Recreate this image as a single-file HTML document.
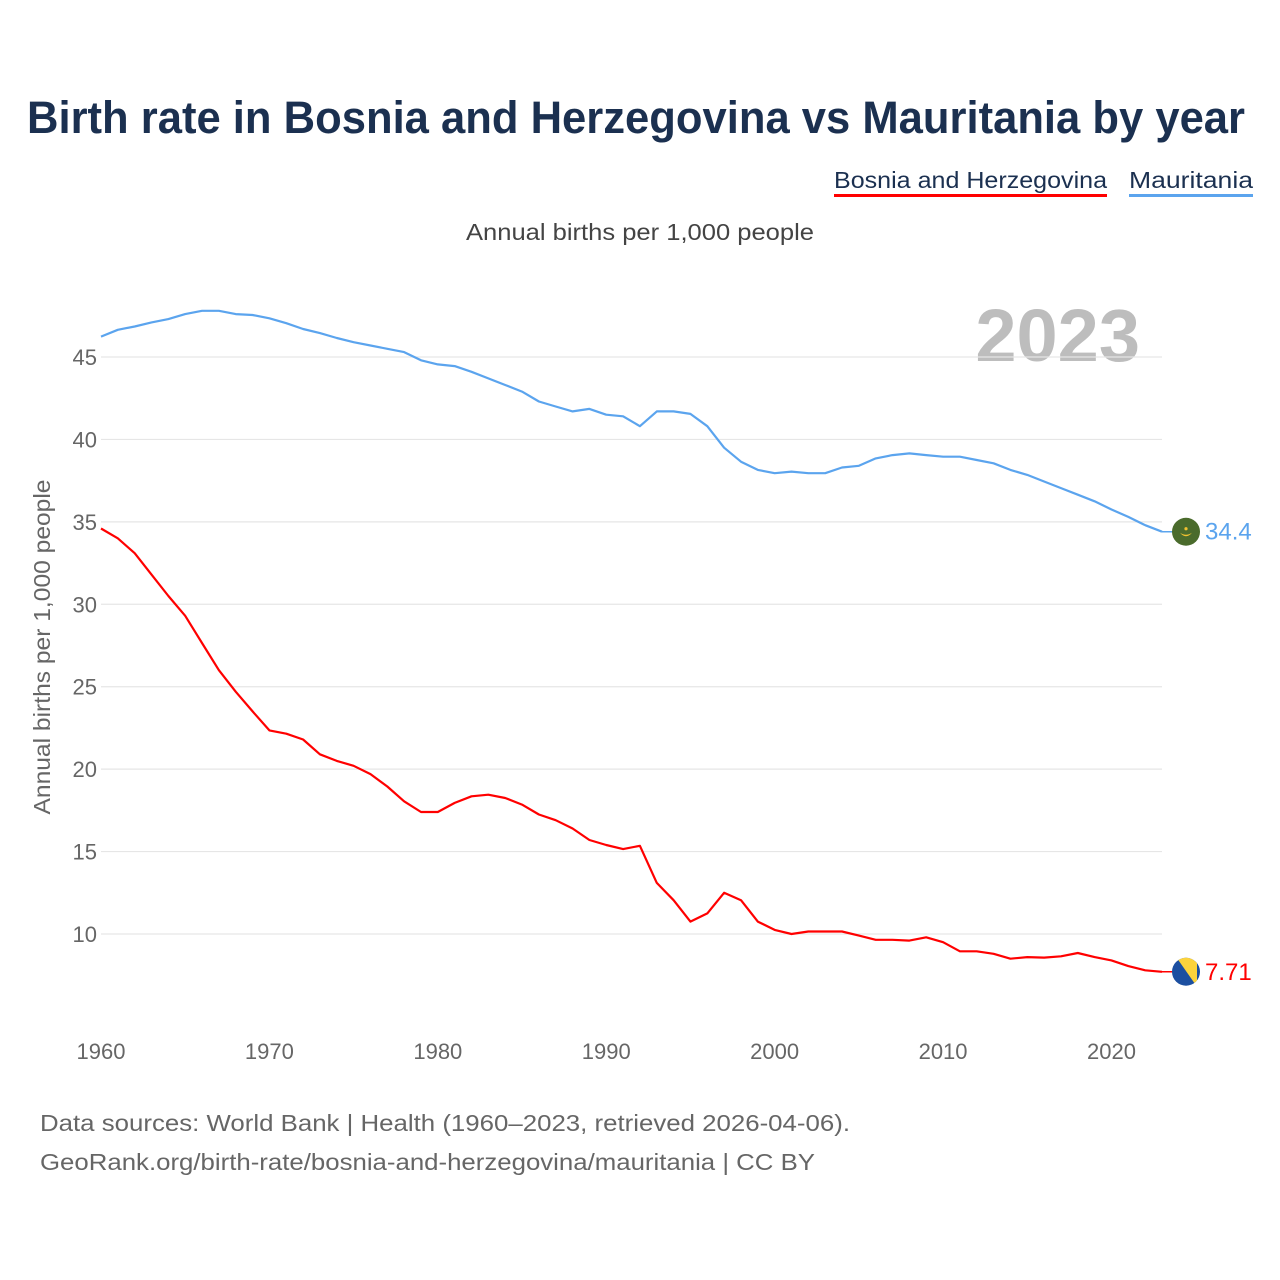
<!DOCTYPE html>
<html><head><meta charset="utf-8"><style>
html,body{margin:0;padding:0;background:#fff;}
svg{display:block;font-family:"Liberation Sans",sans-serif;}
</style></head><body>
<svg id="chart" width="1280" height="1280" viewBox="0 0 1280 1280" xmlns="http://www.w3.org/2000/svg">
<text x="636" y="133" text-anchor="middle" font-size="45" font-weight="bold" fill="#1b3050" textLength="1218" lengthAdjust="spacingAndGlyphs">Birth rate in Bosnia and Herzegovina vs Mauritania by year</text>
<g>
<text x="834" y="188" font-size="23" fill="#1b3050" textLength="273" lengthAdjust="spacingAndGlyphs">Bosnia and Herzegovina</text>
<rect x="834" y="194" width="273" height="3" fill="#ff0000"/>
</g>
<g>
<text x="1129" y="188" font-size="23" fill="#1b3050" textLength="124" lengthAdjust="spacingAndGlyphs">Mauritania</text>
<rect x="1129" y="194" width="124" height="3" fill="#5ba4ee"/>
</g>
<text x="640" y="240" text-anchor="middle" font-size="23" fill="#444" textLength="348" lengthAdjust="spacingAndGlyphs">Annual births per 1,000 people</text>
<text x="1140" y="361" text-anchor="end" font-size="74" font-weight="bold" fill="#bdbdbd">2023</text>
<text transform="translate(50,647) rotate(-90)" text-anchor="middle" font-size="23" fill="#666" textLength="335" lengthAdjust="spacingAndGlyphs">Annual births per 1,000 people</text>
<g id="grid"></g><g id="yticks"></g><g id="xticks"></g><g id="series"></g>
<text x="40" y="1131" font-size="23" fill="#666" textLength="810" lengthAdjust="spacingAndGlyphs">Data sources: World Bank | Health (1960–2023, retrieved 2026-04-06).</text>
<text x="40" y="1170" font-size="23" fill="#666" textLength="775" lengthAdjust="spacingAndGlyphs">GeoRank.org/birth-rate/bosnia-and-herzegovina/mauritania | CC BY</text>
</svg>
<script>
const years = [];
for (let y = 1960; y <= 2023; y++) years.push(y);
const mauritania = [46.24,46.65,46.85,47.1,47.3,47.6,47.8,47.8,47.6,47.55,47.35,47.05,46.7,46.45,46.15,45.9,45.7,45.5,45.3,44.8,44.55,44.45,44.1,43.7,43.3,42.9,42.3,42.0,41.7,41.85,41.5,41.4,40.8,41.7,41.7,41.55,40.8,39.5,38.65,38.15,37.95,38.05,37.95,37.95,38.3,38.4,38.85,39.05,39.15,39.05,38.95,38.95,38.75,38.55,38.15,37.85,37.45,37.05,36.65,36.25,35.75,35.3,34.8,34.4];
const bosnia = [34.6,34.0,33.1,31.8,30.5,29.3,27.65,26.0,24.7,23.5,22.35,22.15,21.8,20.9,20.5,20.2,19.7,18.95,18.05,17.4,17.4,17.95,18.35,18.45,18.25,17.85,17.25,16.9,16.4,15.7,15.4,15.15,15.35,13.1,12.05,10.75,11.25,12.5,12.05,10.75,10.25,10.0,10.15,10.15,10.15,9.9,9.65,9.65,9.6,9.8,9.5,8.95,8.95,8.8,8.5,8.6,8.57,8.65,8.85,8.6,8.4,8.05,7.8,7.71];
const yTicks = [10,15,20,25,30,35,40,45];
const xTicks = [1960,1970,1980,1990,2000,2010,2020];
const NS = "http://www.w3.org/2000/svg";
const X0 = 101, X1 = 1162, Y45 = 357, Y10 = 934;
function xs(yr){ return X0 + (yr - 1960) * (X1 - X0) / 63; }
function ys(v){ return Y10 - (v - 10) * (Y10 - Y45) / 35; }
function mk(tag, attrs, parent){ const e = document.createElementNS(NS, tag); for (const k in attrs) e.setAttribute(k, attrs[k]); parent.appendChild(e); return e; }
const grid = document.getElementById('grid'), yt = document.getElementById('yticks'), xt = document.getElementById('xticks'), ser = document.getElementById('series');
yTicks.forEach(v => {
  const l = mk('line', {x1: X0, x2: X1, y1: ys(v), y2: ys(v), stroke: '#e6e6e6', 'stroke-width': 1.2}, grid);
  
  
  const t = mk('text', {x: 97, y: ys(v) + 8, 'text-anchor': 'end', 'font-size': 22, fill: '#666'}, yt);
  t.textContent = v;
  
  
});
xTicks.forEach(v => {
  const t = mk('text', {x: xs(v), y: 1059, 'text-anchor': 'middle', 'font-size': 22, fill: '#666'}, xt);
  t.textContent = v;
  
  
});
function drawLine(vals, color, name){
  const d = vals.map((v, i) => (i ? 'L' : 'M') + xs(years[i]).toFixed(1) + ',' + ys(v).toFixed(1)).join(' ');
  const p = mk('path', {d: d, fill: 'none', stroke: color, 'stroke-width': 2.2, 'stroke-linejoin': 'round'}, ser);
  
  
  const last = vals[vals.length - 1];
  const ly = ys(last);
  mk('line', {x1: X1, x2: 1175, y1: ly, y2: ly, stroke: color, 'stroke-width': 1.5}, ser);
  return ly;
}
const my = drawLine(mauritania, '#5ba4ee', 'line-mauritania');
const by = drawLine(bosnia, '#ff0000', 'line-bosnia');
const mf = mk('g', {}, ser);


mk('circle', {cx: 1186, cy: my, r: 14, fill: '#4a6b2c'}, mf);
mk('path', {d: `M1180,${my+1} Q1186,${my+8} 1192,${my+1} Q1186,${my+5} 1180,${my+1}Z`, fill: '#f2c230'}, mf);
mk('circle', {cx: 1186, cy: my - 3, r: 1.6, fill: '#f2c230'}, mf);
const mv = mk('text', {x: 1205, y: my + 8, 'font-size': 24, fill: '#5ba4ee'}, ser);
mv.textContent = mauritania[mauritania.length - 1];


const bf = mk('g', {}, ser);


const cp = mk('clipPath', {id: 'bclip'}, bf);
mk('circle', {cx: 1186, cy: by, r: 14}, cp);
const bg = mk('g', {'clip-path': 'url(#bclip)'}, bf);
mk('rect', {x: 1170, y: by - 16, width: 32, height: 32, fill: '#1c4fa0'}, bg);
mk('polygon', {points: `${1176},${by-15} ${1197},${by-15} ${1197},${by+15}`, fill: '#fcd33c'}, bg);
const bv = mk('text', {x: 1205, y: by + 8, 'font-size': 24, fill: '#ff0000'}, ser);
bv.textContent = bosnia[bosnia.length - 1];


</script>
</body></html>
